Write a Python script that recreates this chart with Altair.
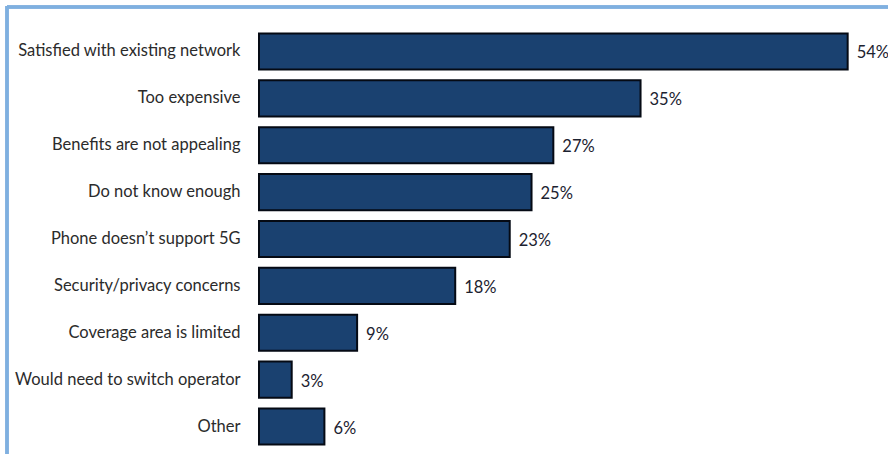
import altair as alt
import pandas as pd

categories = [
    "Satisfied with existing network",
    "Too expensive",
    "Benefits are not appealing",
    "Do not know enough",
    "Phone doesn\u2019t support 5G",
    "Security/privacy concerns",
    "Coverage area is limited",
    "Would need to switch operator",
    "Other",
]
values = [54, 35, 27, 25, 23, 18, 9, 3, 6]
labels = [f"{v}%" for v in values]

df = pd.DataFrame({"cat": categories, "val": values, "lab": labels})

FONT = "Lato"
W, H = 629, 422

y = alt.Y("cat:N", sort=categories, title=None,
          scale=alt.Scale(paddingInner=0.23, paddingOuter=0.115),
          axis=alt.Axis(domain=False, ticks=False, grid=False, labelFont=FONT, labelFontSize=16.5,
                        labelColor="#2b2b2b", labelPadding=19, labelLimit=300))
x = alt.X("val:Q", scale=alt.Scale(domain=[0, 57.7]), axis=None)

bars = alt.Chart(df).mark_bar(color="#1a4170", stroke="#050a14", strokeWidth=2).encode(x=x, y=y)
text = alt.Chart(df).mark_text(align="left", dx=9, dy=2, font=FONT, fontSize=16.5, color="#1c2230").encode(
    x=x, y=alt.Y("cat:N", sort=categories), text="lab:N")

border_left = alt.Chart(df).mark_rule(color="#7fb0e0", strokeWidth=2.5).encode(
    x=alt.value(-252), y=alt.value(-22), y2=alt.value(H + 10))
border_top = alt.Chart(df).mark_rule(color="#7fb0e0", strokeWidth=2.5).encode(
    x=alt.value(-252), x2=alt.value(W), y=alt.value(-21))

chart = alt.layer(bars, text, border_left, border_top).properties(
    width=W, height=H,
    autosize=alt.AutoSizeParams(type="none"),
    padding={"left": 259, "top": 28, "right": 0, "bottom": 4},
    background="white",
).configure_view(stroke=None, strokeWidth=0)

chart.save("out.html", embed_options={"renderer": "svg", "actions": False})
